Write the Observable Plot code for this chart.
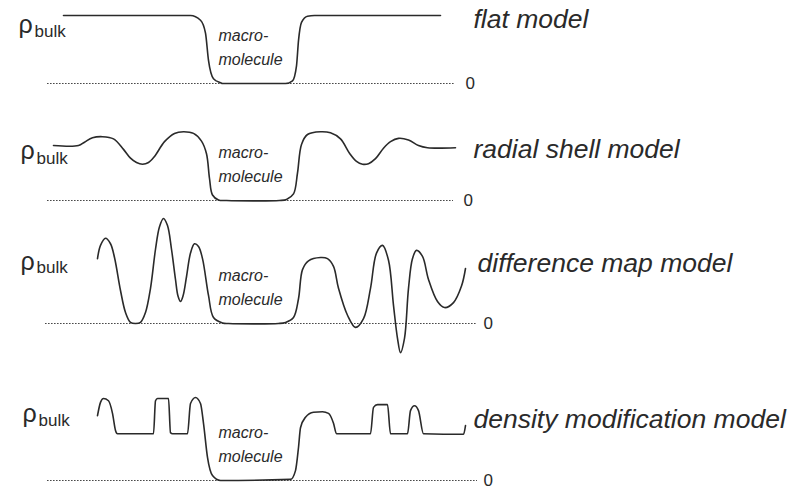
<!DOCTYPE html>
<html>
<head>
<meta charset="utf-8">
<script src="https://cdn.jsdelivr.net/npm/d3@7"></script>
<script src="https://cdn.jsdelivr.net/npm/@observablehq/plot@0.6"></script>
<style>
  body { margin: 0; background: #fff; }
  #chart { width: 809px; height: 489px; overflow: hidden; background: #fff; }
  #chart svg { display: block; overflow: visible; }
  g[aria-label="molecule"] text { letter-spacing: 1px; }
</style>
</head>
<body>
<div id="chart"></div>
<script>
// Solvent density profiles along r, in units of the bulk solvent density (ρbulk = 1).
// Each profile is a list of [r, ρ] pairs; the macromolecule sits near r = 0.
const flatProfile = [
  [-18.9, 1.0], [-6.2, 1.0], [-5.2, 0.93], [-4.7, 0.74], [-4.4, 0.34], [-3.9, 0.07],
  [-3.2, 0.01], [-3.0, 0], [3.3, 0], [4.0, 0.04], [4.4, 0.26], [4.6, 0.63],
  [4.9, 0.9], [5.5, 0.99], [6.2, 1.0], [18.8, 1.0]
];
const radialShellProfile = [
  [-19.9, 1.0], [-17.4, 1.0], [-16.8, 1.06], [-16.0, 1.14], [-15.0, 1.16], [-13.9, 1.12],
  [-12.9, 0.93], [-12.2, 0.77], [-11.6, 0.69], [-11.0, 0.66], [-10.4, 0.69], [-9.8, 0.8],
  [-8.8, 1.07], [-7.8, 1.22], [-6.9, 1.25], [-5.9, 1.22], [-5.1, 1.08], [-4.6, 0.85],
  [-4.3, 0.4], [-4.0, 0.1], [-3.4, 0.01], [-2.6, 0], [2.7, 0], [3.4, 0.02],
  [4.1, 0.12], [4.5, 0.5], [4.9, 1.02], [5.5, 1.2], [6.8, 1.25], [7.8, 1.23],
  [8.8, 1.12], [9.7, 0.86], [10.4, 0.71], [11.0, 0.66], [11.6, 0.67], [12.3, 0.76],
  [13.1, 0.95], [13.8, 1.07], [14.6, 1.13], [15.6, 1.1], [16.6, 1.0], [17.5, 0.96],
  [20.3, 0.96]
];
const differenceMapProfile = [
  [-15.5, 1.18], [-15.2, 1.42], [-14.7, 1.55], [-14.2, 1.45], [-13.8, 1.2], [-13.2, 0.6],
  [-12.7, 0.2], [-12.2, 0.02], [-11.7, 0], [-11.2, 0.02], [-10.7, 0.2], [-10.2, 0.64],
  [-9.7, 1.35], [-9.3, 1.76], [-8.9, 1.91], [-8.5, 1.78], [-8.1, 1.35], [-7.7, 0.8],
  [-7.45, 0.5], [-7.2, 0.4], [-6.95, 0.5], [-6.6, 0.85], [-6.2, 1.28], [-5.8, 1.45],
  [-5.4, 1.4], [-5.0, 1.18], [-4.4, 0.51], [-3.9, 0.11], [-3.0, 0.01], [-2.4, 0],
  [2.6, 0], [3.3, 0.02], [4.1, 0.11], [4.6, 0.45], [5.0, 0.98], [5.6, 1.14],
  [6.8, 1.2], [7.5, 1.18], [8.1, 1.04], [8.6, 0.64], [9.5, 0.15], [10.3, -0.07],
  [11.1, 0.09], [11.8, 0.64], [12.4, 1.28], [13.0, 1.42], [13.6, 1.15], [14.1, 0.33],
  [14.5, -0.27], [14.8, -0.53], [15.2, -0.27], [15.6, 0.64], [16.0, 1.18], [16.4, 1.33],
  [17.0, 1.22], [17.6, 0.8], [18.5, 0.4], [19.2, 0.29], [20.1, 0.38], [20.9, 0.68],
  [21.3, 1.0]
];
const densityModProfile = [
  [-15.5, 1.18], [-15.2, 1.42], [-14.9, 1.49], [-14.4, 1.45], [-14.0, 1.22], [-13.7, 0.91],
  [-13.5, 0.85], [-9.9, 0.85], [-9.7, 1.45], [-9.5, 1.49], [-8.4, 1.49], [-8.2, 0.87],
  [-8.0, 0.85], [-6.5, 0.85], [-6.2, 1.4], [-5.7, 1.51], [-5.2, 1.4], [-4.9, 1.04],
  [-4.5, 0.42], [-4.0, 0.09], [-3.2, 0], [3.8, 0.02], [4.3, 0.18], [4.6, 0.6],
  [4.8, 0.96], [5.3, 1.15], [6.1, 1.24], [7.0, 1.25], [7.6, 1.22], [8.1, 1.04],
  [8.4, 0.85], [11.8, 0.85], [12.1, 1.33], [12.5, 1.38], [13.5, 1.38], [13.8, 0.85],
  [15.5, 0.85], [15.8, 1.27], [16.2, 1.36], [16.6, 1.27], [17.1, 0.85], [21.1, 0.84],
  [21.3, 1.0]
];

const modelNames = ["flat model", "radial shell model", "difference map model", "density modification model"];
const zeroTick = "0";
const rhoSymbol = "ρ";
const rhoSubscript = "bulk";
const coreLabel = ["macro-", "molecule"];
const zeroLineExtent = [[-20.5, 20.3], [-20.5, 20.1], [-20.7, 22.5], [-20.5, 22.5]];

const profiles = [flatProfile, radialShellProfile, differenceMapProfile, densityModProfile];

// Per-panel frame: SVG height, pixel rows of ρ = 0 and ρ = 1, curve shape, and text placement in data units.
const frames = [
  {height: 110, zero: 83, bulk: 15, curve: "monotone-x", nameR: 22.1, nameY: 0.82, zeroR: 21.3, rhoR: -23.4, rhoY: 0.74, subY: 0.68},
  {height: 100, zero: 90, bulk: 35, curve: "catmull-rom", nameR: 22.1, nameY: 0.78, zeroR: 21.1, rhoR: -23.2, rhoY: 0.76, subY: 0.67},
  {height: 155, zero: 113, bulk: 58, curve: "catmull-rom", nameR: 22.5, nameY: 0.93, zeroR: 23.1, rhoR: -23.2, rhoY: 0.98, subY: 0.91},
  {height: 124, zero: 115, bulk: 60, curve: "monotone-x", nameR: 22.1, nameY: 0.96, zeroR: 23.1, rhoR: -23.0, rhoY: 1.07, subY: 1.0}
];

const font = "'Liberation Sans', Arial, Helvetica, sans-serif";
const ink = "#2a2a2a";

function panel(i) {
  const f = frames[i];
  const pts = profiles[i].map(([r, rho]) => ({r, rho}));
  const [r0, r1] = zeroLineExtent[i];
  return Plot.plot({
    width: 809,
    height: f.height,
    margin: 0,
    style: {background: "transparent", fontFamily: font},
    x: {domain: [-25.2, 55.7], axis: null},
    y: {domain: [0, 1], range: [f.zero, f.bulk], axis: null},
    marks: [
      Plot.ruleY([0], {x1: r0, x2: r1, stroke: "#4a4a4a", strokeWidth: 1.2, strokeDasharray: "1.6 1.4"}),
      Plot.line(pts, {x: "r", y: "rho", curve: f.curve, stroke: ink, strokeWidth: 1.6}),
      Plot.text([zeroTick], {x: f.zeroR, y: 0, text: d => d, textAnchor: "start", lineAnchor: "middle",
        fontSize: 17, fill: ink, fontFamily: font}),
      Plot.text([rhoSymbol], {x: f.rhoR, y: f.rhoY, text: d => d, textAnchor: "start", lineAnchor: "bottom",
        fontSize: 25, fill: ink, fontFamily: font}),
      Plot.text([rhoSubscript], {x: f.rhoR, y: f.subY, dx: 16, text: d => d, textAnchor: "start", lineAnchor: "bottom",
        fontSize: 17, fill: ink, fontFamily: font, ariaLabel: "molecule"}),
      Plot.text([coreLabel[0]], {x: -3.4, y: 0, dy: -43, text: d => d, textAnchor: "start", lineAnchor: "bottom",
        fontSize: 16, fontStyle: "italic", fill: ink, fontFamily: font}),
      Plot.text([coreLabel[1]], {x: -3.4, y: 0, dy: -19, text: d => d, textAnchor: "start", lineAnchor: "bottom",
        fontSize: 16, fontStyle: "italic", fill: ink, fontFamily: font, ariaLabel: "molecule"}),
      Plot.text([modelNames[i]], {x: f.nameR, y: f.nameY, text: d => d, textAnchor: "start", lineAnchor: "bottom",
        fontSize: 26.5, fontStyle: "italic", fill: ink, fontFamily: font})
    ]
  });
}

const root = document.getElementById("chart");
for (let i = 0; i < profiles.length; ++i) root.appendChild(panel(i));
</script>
</body>
</html>
